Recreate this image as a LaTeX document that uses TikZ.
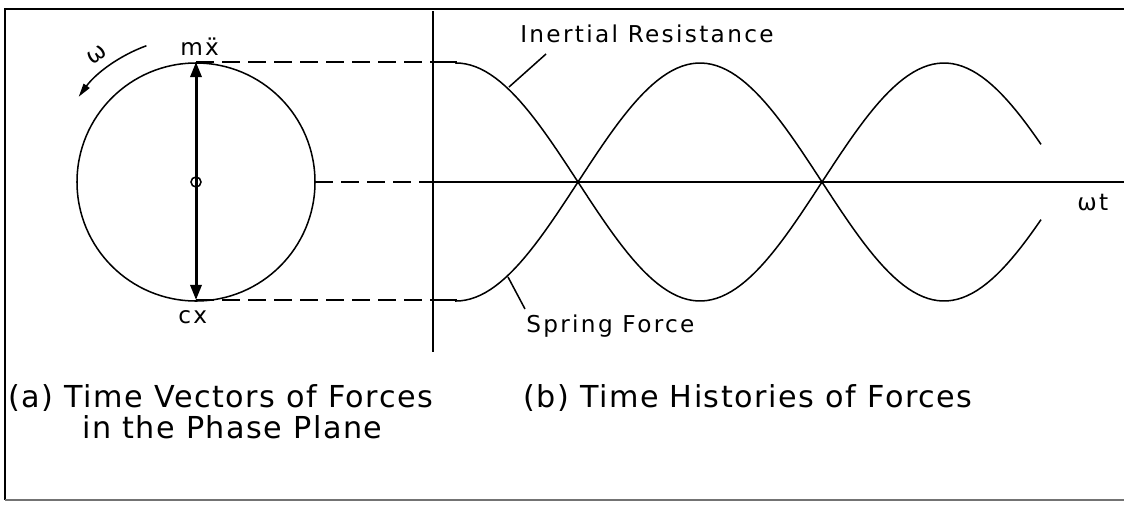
\documentclass[tikz,border=0pt]{standalone}
\usepackage{fontspec}
\setmainfont{DejaVu Sans}
\newfontfamily\labelfont{DejaVu Sans}[LetterSpace=10]
\newfontfamily\capfont{DejaVu Sans}[LetterSpace=5]
\usetikzlibrary{arrows.meta,positioning}

\begin{document}
\begin{tikzpicture}[
  x=0.25mm, y=-0.25mm,
  font=\labelfont\fontsize{16.5}{19}\selectfont,
  line/.style={line width=0.38mm, draw=black},
  axis/.style={line width=0.42mm},
  guide/.style={line width=0.38mm, dash pattern=on 4.5mm off 2mm},
  frame/.style={line width=0.55mm},
  vec/.style={{Triangle[length=3.8mm,width=2.8mm]}-{Triangle[length=3.8mm,width=2.8mm]}, line width=0.75mm},
  spin/.style={line, -{Triangle[length=3.4mm,width=1.8mm]}},
  lbl/.style={inner sep=0pt, anchor=base west},
  captext/.style={font=\capfont\fontsize{21.5}{24}\selectfont, inner sep=0pt, anchor=base west},
]
\useasboundingbox (0,0) rectangle (1124,504);

\draw[frame] (1124,9) -- (5,9) -- (5,500);
\draw[line, draw=black!55] (5,500) -- (1124,500);

\coordinate (O) at (196,182);
\coordinate (top) at (196,62);
\coordinate (bot) at (196,300);
\coordinate (east) at (315,182);
\coordinate (orig) at (433,182);
\coordinate (atop) at (433,62);
\coordinate (abot) at (433,300);
\coordinate (ytop) at (433,11);
\coordinate (ybot) at (433,352);
\coordinate (xend) at (1124,182);

\draw[line] (O) circle[radius=119];
\draw[line] (O) circle[radius=5];
\draw[vec] (bot) -- (top);
\coordinate (w0) at ([shift={(-110:145)}]O);
\draw[spin] (w0) arc[start angle=-110, end angle=-144, radius=145];
\node[rotate=35] (omega) at (97,55) {ω};

\node[lbl] (mx) at (180,55) {m\"{x}};
\node[lbl] (cx) at (178,323) {cx};

\draw[guide] (top) -- (atop);
\draw[guide] (bot) -- (abot);
\draw[guide] (east) -- (orig);
\draw[axis] (ytop) -- (ybot);
\draw[axis] (orig) -- (xend);
\node[lbl] (wt) at (1077,210) {ωt};

\draw[line] (atop) -- (456,62)
  -- plot[domain=456:1041, samples=120] (\x, {182-119*cos((\x-456)/488*360)});
\draw[line] (abot) -- (456,300)
  -- plot[domain=456:1041, samples=120] (\x, {182+119*cos((\x-456)/488*360)});

\node[lbl] (inert) at (520,42) {Inertial Resistance};
\node[lbl] (spring) at (526,332) {Spring Force};
\coordinate (ic) at (509,87);
\coordinate (il) at (546,54);
\coordinate (sc) at (508,277);
\coordinate (sl) at (525,309);
\draw[line] (ic) -- (il);
\draw[line] (sc) -- (sl);

\node[captext] (capa) at (8,407) {(a) Time Vectors of Forces};
\node[captext] (capa2) at (82,438) {in the Phase Plane};
\node[captext] (capb) at (523,407) {(b) Time Histories of Forces};

\end{tikzpicture}
\end{document}
